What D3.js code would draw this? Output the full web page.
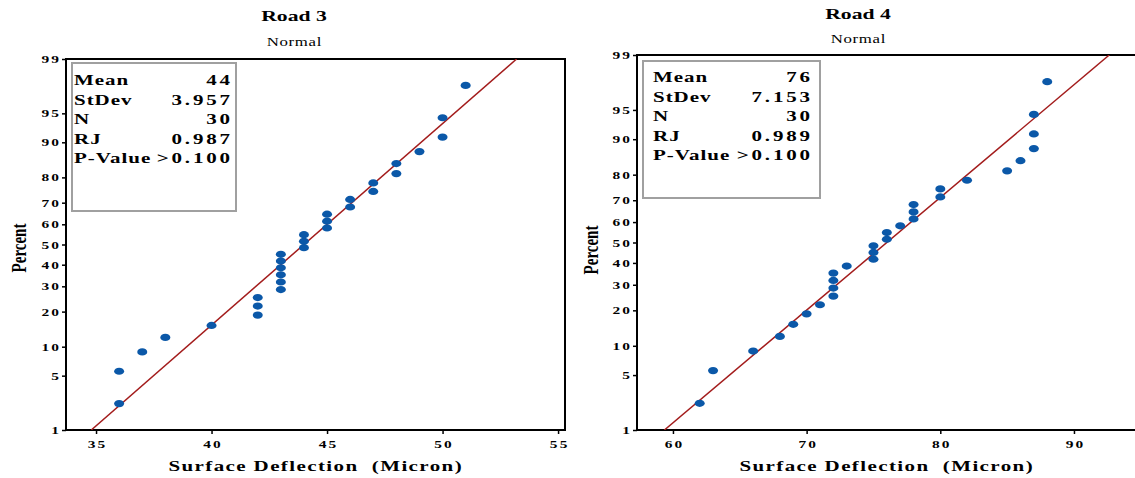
<!DOCTYPE html>
<html>
<head>
<meta charset="utf-8">
<script src="https://cdn.jsdelivr.net/npm/d3@7"></script>
<style>
  body { margin: 0; background: #fff; }
  svg { display: block; }
</style>
</head>
<body>
<div id="chart"></div>
<script>
//Data: plotting positions (percent), same for both roads since N = 30
var percents = [2.3, 5.6, 8.9, 12.2, 15.5, 18.8, 22.0, 25.3, 28.6, 31.9, 35.2, 38.5, 41.8, 45.1, 48.4,
                51.6, 54.9, 58.2, 61.5, 64.8, 68.1, 71.4, 74.7, 78.0, 81.3, 84.5, 87.8, 91.1, 94.4, 97.7];
var road3 = [36, 36, 37, 38, 40, 42, 42, 42, 43, 43, 43, 43, 43, 43, 44,
             44, 44, 45, 45, 45, 46, 46, 47, 47, 48, 48, 49, 50, 50, 51];
var road4 = [62, 63, 66, 68, 69, 70, 71, 72, 72, 72, 72, 73, 75, 75, 75,
             76, 76, 77, 78, 78, 78, 80, 80, 82, 85, 86, 87, 87, 87, 88];

//Axes
var percentTicks = [1, 5, 10, 20, 30, 40, 50, 60, 70, 80, 90, 95, 99];
var road3Ticks = [35, 40, 45, 50, 55];
var road4Ticks = [60, 70, 80, 90];

//Stats box
var statLabels = ["Mean", "StDev", "N", "RJ", "P-Value"];
var road3Stats = ["44", "3.957", "30", "0.987", ">0.100"];
var road4Stats = ["76", "7.153", "30", "0.989", ">0.100"];
var road3Fit = [44, 3.957];   //mean, stdev of fitted line
var road4Fit = [76, 7.153];

//Colors and fonts
var colorDot = "#0b58a8";
var colorLine = "#a31c1c";
var colorBox = "#a0a0a0";
var font = "'Liberation Serif', 'Times New Roman', serif";
var stretch = 1.4;   //text in the picture is wide, so stretch horizontally

//Inverse normal cdf (Acklam)
function probit(p) {
    var a = [-3.969683028665376e+01, 2.209460984245205e+02, -2.759285104469687e+02, 1.383577518672690e+02, -3.066479806614716e+01, 2.506628277459239e+00];
    var b = [-5.447609879822406e+01, 1.615858368580409e+02, -1.556989798598866e+02, 6.680131188771972e+01, -1.328068155288572e+01];
    var c = [-7.784894002430293e-03, -3.223964580411365e-01, -2.400758277161838e+00, -2.549732539343734e+00, 4.374664141464968e+00, 2.938163982698783e+00];
    var d = [7.784695709041462e-03, 3.224671290700398e-01, 2.445134137142996e+00, 3.754408661907416e+00];
    var q, r;
    if (p < 0.02425) {
        q = Math.sqrt(-2 * Math.log(p));
        return (((((c[0]*q+c[1])*q+c[2])*q+c[3])*q+c[4])*q+c[5]) / ((((d[0]*q+d[1])*q+d[2])*q+d[3])*q+1);
    }
    if (p > 1 - 0.02425) {
        q = Math.sqrt(-2 * Math.log(1 - p));
        return -(((((c[0]*q+c[1])*q+c[2])*q+c[3])*q+c[4])*q+c[5]) / ((((d[0]*q+d[1])*q+d[2])*q+d[3])*q+1);
    }
    q = p - 0.5; r = q * q;
    return (((((a[0]*r+a[1])*r+a[2])*r+a[3])*r+a[4])*r+a[5])*q / (((((b[0]*r+b[1])*r+b[2])*r+b[3])*r+b[4])*r+1);
}

//Stretched text helper
function wideText(g, x, y, str, size, spacing, anchor, weight) {
    return g.append("text")
        .attr("transform", "translate(" + x + "," + y + ") scale(" + stretch + ",1)")
        .attr("text-anchor", anchor || "start")
        .attr("dx", anchor == "end" ? spacing : (anchor == "middle" ? spacing / 2 : 0))
        .style("font-family", font)
        .style("font-weight", weight || "bold")
        .style("font-size", size + "px")
        .style("letter-spacing", spacing + "px")
        .style("white-space", "pre")
        .text(str);
}

var panels = [
    {id: "p3", title: "Road 3", values: road3, ticks: road3Ticks, stats: road3Stats, fit: road3Fit,
     left: 66, right: 565, top: 59, bottom: 430, xDomain: [33.7, 55.3],
     titleX: 294, titleY: 21, subY: 46, percentX: 26, percentY: 248,
     box: [72, 63, 164, 148], textL: 74, textR: 230, textY: 85, labelX: 315},
    {id: "p4", title: "Road 4", values: road4, ticks: road4Ticks, stats: road4Stats, fit: road4Fit,
     left: 637, right: 1140, top: 55, bottom: 430, xDomain: [57.31, 94.94],
     titleX: 858, titleY: 19, subY: 43, percentX: 598, percentY: 250,
     box: [643, 61, 177, 137], textL: 653, textR: 810, textY: 82, labelX: 886}
];

var svg = d3.select("#chart").append("svg")
    .attr("width", 1135)
    .attr("height", 478);

panels.forEach(function (p) {
    var x = d3.scaleLinear().domain(p.xDomain).range([p.left, p.right]);
    var yz = d3.scaleLinear().domain([probit(0.01), probit(0.99)]).range([p.bottom, p.top]);
    var y = function (pct) { return yz(probit(pct / 100)); };

    var g = svg.append("g");

    g.append("clipPath").attr("id", "clip-" + p.id)
        .append("rect")
        .attr("x", p.left).attr("y", p.top)
        .attr("width", p.right - p.left).attr("height", p.bottom - p.top);

    //Titles
    wideText(g, p.titleX, p.titleY, p.title, 15.5, 0, "middle");
    wideText(g, p.titleX, p.subY, "Normal", 12, 0.5, "middle", "normal");

    //Axes
    var zTicks = percentTicks.map(function (t) { return probit(t / 100); });
    var yAxis = g.append("g")
        .attr("transform", "translate(" + p.left + ",0)")
        .call(d3.axisLeft(yz).tickValues(zTicks).tickSize(4)
            .tickFormat(function (d, i) { return percentTicks[i]; }));
    var xAxis = g.append("g")
        .attr("transform", "translate(0," + p.bottom + ")")
        .call(d3.axisBottom(x).tickValues(p.ticks).tickSize(4)
            .tickFormat(d3.format("d")));
    [yAxis, xAxis].forEach(function (ax) {
        ax.select(".domain").remove();
        ax.selectAll(".tick line").attr("stroke", "#000").attr("stroke-width", 1.5);
        ax.selectAll(".tick text")
            .attr("fill", "#000")
            .attr("transform", "scale(" + stretch + ",1)")
            .style("font-family", font).style("font-weight", "bold")
            .style("font-size", "11px").style("letter-spacing", "1.5px");
    });
    yAxis.selectAll(".tick text").attr("x", -7 / stretch).attr("dx", 1.5);
    xAxis.selectAll(".tick text").attr("y", 10).attr("dx", 0.75);

    //Frame
    g.append("rect")
        .attr("x", p.left).attr("y", p.top)
        .attr("width", p.right - p.left).attr("height", p.bottom - p.top)
        .attr("fill", "none").attr("stroke", "#000").attr("stroke-width", 2);

    //Fitted line
    var zLo = probit(0.01), zHi = probit(0.99);
    var fitPts = [[p.fit[0] + p.fit[1] * zLo, 1], [p.fit[0] + p.fit[1] * zHi, 99]];
    g.append("path")
        .attr("clip-path", "url(#clip-" + p.id + ")")
        .attr("d", d3.line().x(function (d) { return x(d[0]); }).y(function (d) { return y(d[1]); })(fitPts))
        .attr("fill", "none").attr("stroke", colorLine).attr("stroke-width", 1.5);

    //Points
    g.selectAll("ellipse.dot")
        .data(p.values)
        .enter().append("ellipse")
        .attr("class", "dot")
        .attr("cx", function (d) { return x(d); })
        .attr("cy", function (d, i) { return y(percents[i]); })
        .attr("rx", 5).attr("ry", 3.6)
        .attr("fill", colorDot);

    //Stats box
    g.append("rect")
        .attr("x", p.box[0]).attr("y", p.box[1])
        .attr("width", p.box[2]).attr("height", p.box[3])
        .attr("fill", "#fff").attr("stroke", colorBox).attr("stroke-width", 2);
    statLabels.forEach(function (lab, i) {
        var ty = p.textY + i * 19.5;
        wideText(g, p.textL, ty, lab, 15, 0.7, "start");
        wideText(g, p.textR, ty, p.stats[i], 15, 2, "end");
    });

    //Axis titles
    g.append("text")
        .attr("transform", "translate(" + p.percentX + "," + p.percentY + ") scale(" + stretch + ",1) rotate(-90)")
        .attr("text-anchor", "middle")
        .style("font-family", font).style("font-weight", "bold")
        .style("font-size", "15px")
        .text("Percent");
    wideText(g, p.labelX, 471, "Surface Deflection  (Micron)", 15, 1, "middle");
});
</script>
</body>
</html>
